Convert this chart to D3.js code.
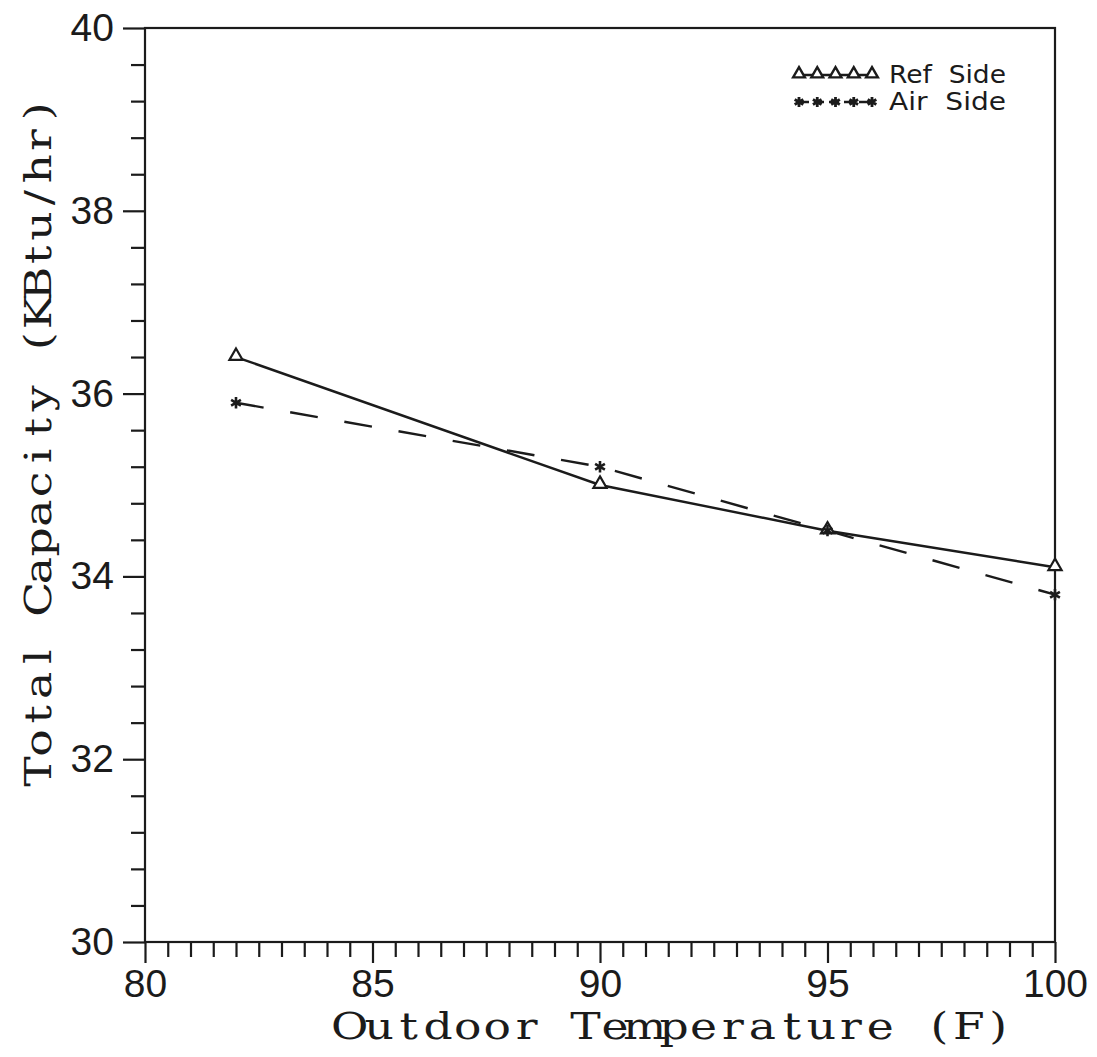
<!DOCTYPE html>
<html>
<head>
<meta charset="utf-8">
<script src="https://cdn.jsdelivr.net/npm/d3@7"></script>
<style>
  html, body { margin: 0; padding: 0; background: #ffffff; }
  svg { display: block; }
</style>
</head>
<body>
<script>
// Outdoor temperature (F) at which capacity was measured
const temperatures = [82, 90, 95, 100];
// Total capacity (KBtu/hr), refrigerant-side calculation
const refSide = [36.4, 35.0, 34.5, 34.1];
// Total capacity (KBtu/hr), air-side calculation
const airSide = [35.9, 35.2, 34.5, 33.8];

const xMajorTicks = [80, 85, 90, 95, 100];
const yMajorTicks = [30, 32, 34, 36, 38, 40];
const seriesNames = ["Ref  Side", "Air  Side"];
const xTitle = "Outdoor Temperature (F)";
const yTitle = "Total Capacity (KBtu/hr)";

const W = 1097, H = 1057;
const ink = "#1b1b1b";

const svg = d3.select("body").append("svg")
  .attr("width", W).attr("height", H);

const x = d3.scaleLinear().domain([80, 100]).range([145, 1055]);
const y = d3.scaleLinear().domain([30, 40]).range([942, 28]);

const xMinor = d3.range(80, 100.001, 0.5).filter(v => Math.abs(v % 5) > 1e-6);
const yMinor = d3.range(30, 40.001, 0.4).filter(v => Math.abs(v % 2) > 1e-6 && Math.abs((v % 2) - 2) > 1e-6);

function styleAxis(g) {
  g.select(".domain").remove();
  g.selectAll(".tick line").attr("stroke", ink).attr("stroke-width", 2.2);
  g.selectAll(".tick text")
    .attr("fill", ink)
    .style("font-family", "'Liberation Sans', Arial, sans-serif")
    .style("font-size", "39px");
}

// minor ticks
svg.append("g").attr("transform", `translate(0,${y(30)})`)
  .call(d3.axisBottom(x).tickValues(xMinor).tickSize(15).tickFormat(""))
  .call(styleAxis);
svg.append("g").attr("transform", `translate(${x(80)},0)`)
  .call(d3.axisLeft(y).tickValues(yMinor).tickSize(14).tickFormat(""))
  .call(styleAxis);

// major ticks with labels
svg.append("g").attr("transform", `translate(0,${y(30)})`)
  .call(d3.axisBottom(x).tickValues(xMajorTicks).tickSize(21).tickPadding(6).tickFormat(d3.format("d")))
  .call(styleAxis);
svg.append("g").attr("transform", `translate(${x(80)},0)`)
  .call(d3.axisLeft(y).tickValues(yMajorTicks).tickSize(22).tickPadding(9).tickFormat(d3.format("d")))
  .call(styleAxis);

// frame
svg.append("rect")
  .attr("x", x(80)).attr("y", y(40))
  .attr("width", x(100) - x(80)).attr("height", y(30) - y(40))
  .attr("fill", "none").attr("stroke", ink).attr("stroke-width", 2.2);

// axis titles, set on a fixed character grid like a typewriter face
const titleFont = "'DejaVu Serif', serif";
const stretch = 1.2;
function monoText(g, str, start, cell, baseline) {
  const xs = Array.from(str, (c, i) => ((start + cell * (i + 0.5)) / stretch).toFixed(2)).join(" ");
  g.append("text")
    .attr("transform", `scale(${stretch},1)`)
    .attr("x", xs).attr("y", baseline)
    .attr("text-anchor", "middle")
    .attr("xml:space", "preserve")
    .style("white-space", "pre")
    .style("font-family", titleFont).style("font-size", "38px")
    .attr("fill", ink)
    .text(str);
}

monoText(svg.append("g"), xTitle, 335, 678 / xTitle.length, 1039);
monoText(svg.append("g").attr("transform", "translate(51,0) rotate(-90)"),
  yTitle, -786, 689 / yTitle.length, 0);

// series
const line = d3.line().x(d => x(d[0])).y(d => y(d[1]));
const refPts = temperatures.map((t, i) => [t, refSide[i]]);
const airPts = temperatures.map((t, i) => [t, airSide[i]]);

svg.append("path").datum(refPts)
  .attr("d", line).attr("fill", "none")
  .attr("stroke", ink).attr("stroke-width", 2.4);

svg.append("path").datum(airPts)
  .attr("d", line).attr("fill", "none")
  .attr("stroke", ink).attr("stroke-width", 2.4)
  .attr("stroke-dasharray", "28,27");

const triangle = d3.symbol().type(d3.symbolTriangle);
const star = d3.symbol().type(d3.symbolAsterisk);

function drawTriangles(pts, size, sw) {
  svg.append("g").selectAll("path").data(pts).join("path")
    .attr("transform", d => `translate(${d[0]},${d[1]})`)
    .attr("d", triangle.size(size)())
    .attr("fill", "#fff").attr("stroke", ink).attr("stroke-width", sw);
}
function drawStars(pts, size, sw) {
  svg.append("g").selectAll("path").data(pts).join("path")
    .attr("transform", d => `translate(${d[0]},${d[1]})`)
    .attr("d", star.size(size)())
    .attr("fill", "none").attr("stroke", ink).attr("stroke-width", sw);
}

drawTriangles(refPts.map(d => [x(d[0]), y(d[1]) - 1]), 75, 2.2);
drawStars(airPts.map(d => [x(d[0]), y(d[1])]), 90, 2.6);

// legend
const legX0 = 799, legX1 = 872;
const legendRows = [
  { name: seriesNames[0], y: 75, kind: "tri" },
  { name: seriesNames[1], y: 102, kind: "star" }
];
const legendSamples = d3.range(5).map(i => legX0 + i * (legX1 - legX0) / 4);

legendRows.forEach(r => {
  svg.append("line")
    .attr("x1", legX0).attr("x2", legX1).attr("y1", r.y).attr("y2", r.y)
    .attr("stroke", ink).attr("stroke-width", 2.4)
    .attr("stroke-dasharray", r.kind === "star" ? "10,5" : null);
  if (r.kind === "tri") drawTriangles(legendSamples.map(px => [px, r.y - 1]), 60, 2.4);
  else drawStars(legendSamples.map(px => [px, r.y]), 70, 2.8);
  svg.append("text")
    .attr("x", 889).attr("y", r.y + 8)
    .attr("xml:space", "preserve")
    .style("white-space", "pre")
    .attr("textLength", 117).attr("lengthAdjust", "spacingAndGlyphs")
    .style("font-family", "'DejaVu Sans', sans-serif").style("font-size", "24px")
    .attr("fill", ink)
    .text(r.name);
});
</script>
</body>
</html>
